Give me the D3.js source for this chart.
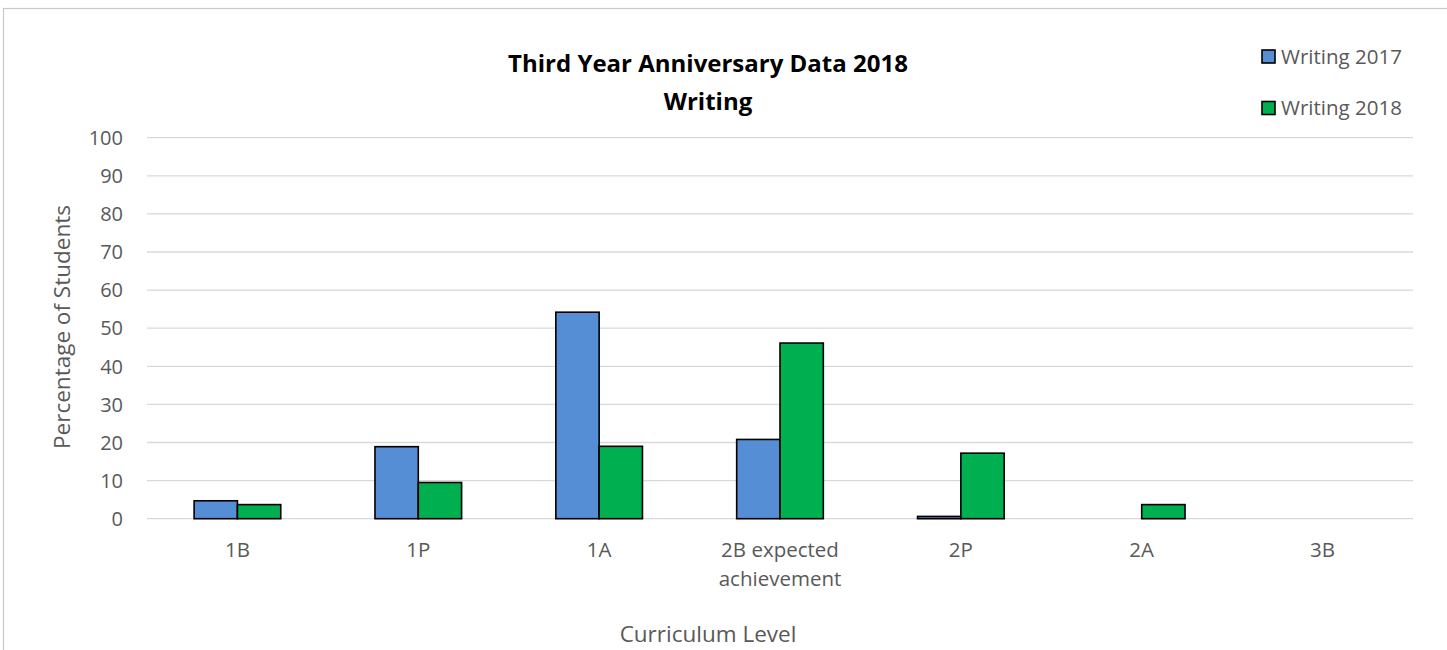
<!DOCTYPE html>
<html>
<head>
<meta charset="utf-8">
<script src="https://cdn.jsdelivr.net/npm/d3@7"></script>
<style>
  html, body { margin: 0; padding: 0; background: #fff; }
  svg { display: block; }
  text { font-family: "Open Sans", sans-serif; }
</style>
</head>
<body>
<svg id="chart" width="1447" height="650"></svg>
<script>
// Curriculum levels and the percentage of students at each level
const categories = ["1B", "1P", "1A", "2B expected achievement", "2P", "2A", "3B"];
const writing2017 = [4.7, 18.9, 54.2, 20.8, 0.6, 0, 0];
const writing2018 = [3.7, 9.5, 19.0, 46.1, 17.2, 3.7, 0];
const seriesNames = ["Writing 2017", "Writing 2018"];
const seriesColors = ["#558ED5", "#00B050"];
const yTicks = [0, 10, 20, 30, 40, 50, 60, 70, 80, 90, 100];

const svg = d3.select("#chart");
const W = 1447, H = 650;
const plot = { left: 147, right: 1413, top: 137.7, bottom: 518.7 };
const textGrey = "#595959";

// chart frame (runs off the right and bottom edges)
svg.append("rect")
  .attr("x", 3.5).attr("y", 8.5)
  .attr("width", W + 10).attr("height", H + 10)
  .attr("fill", "#fff").attr("stroke", "#c8c8c8").attr("stroke-width", 1.2);

const x = d3.scaleBand().domain(categories).range([plot.left, plot.right]).padding(0);
const y = d3.scaleLinear().domain([0, 100]).range([plot.bottom, plot.top]);
const groupFrac = 0.479;
const barW = x.bandwidth() * groupFrac / 2;

// gridlines
svg.append("g").selectAll("line").data(yTicks).join("line")
  .attr("x1", plot.left).attr("x2", plot.right)
  .attr("y1", d => y(d)).attr("y2", d => y(d))
  .attr("stroke", "#d9d9d9").attr("stroke-width", 1.3);

// y-axis tick labels
svg.append("g").selectAll("text").data(yTicks).join("text")
  .attr("x", 123).attr("y", d => y(d))
  .attr("dy", "0.36em")
  .attr("text-anchor", "end")
  .attr("font-size", 20).attr("fill", textGrey)
  .text(d => d);

// bars, one group per series
const series = [writing2017, writing2018];
series.forEach((vals, si) => {
  svg.append("g").selectAll("rect").data(categories).join("rect")
    .attr("x", (c) => x(c) + x.bandwidth() / 2 - barW + si * barW)
    .attr("y", (c, i) => y(vals[i]))
    .attr("width", barW)
    .attr("height", (c, i) => y(0) - y(vals[i]))
    .attr("fill", seriesColors[si])
    .attr("stroke", "#000")
    .attr("stroke-width", (c, i) => vals[i] > 0 ? 1.6 : 0);
});

// category labels (long label wraps onto two lines)
const catG = svg.append("g");
categories.forEach(c => {
  const lines = c === "2B expected achievement" ? ["2B expected", "achievement"] : [c];
  lines.forEach((ln, li) => {
    catG.append("text")
      .attr("x", x(c) + x.bandwidth() / 2)
      .attr("y", 557 + li * 29)
      .attr("text-anchor", "middle")
      .attr("font-size", 20.5).attr("fill", textGrey)
      .text(ln);
  });
});

// chart title
const titleX = 708;
svg.append("text").attr("x", titleX).attr("y", 72).attr("text-anchor", "middle")
  .attr("font-size", 24).attr("font-weight", "bold").attr("fill", "#000")
  .text("Third Year Anniversary Data 2018");
svg.append("text").attr("x", titleX).attr("y", 110).attr("text-anchor", "middle")
  .attr("font-size", 24).attr("font-weight", "bold").attr("fill", "#000")
  .text("Writing");

// axis titles
svg.append("text")
  .attr("transform", "translate(70,327) rotate(-90)")
  .attr("text-anchor", "middle")
  .attr("font-size", 22.5).attr("fill", textGrey)
  .text("Percentage of Students");
svg.append("text").attr("x", titleX).attr("y", 642).attr("text-anchor", "middle")
  .attr("font-size", 22.5).attr("fill", textGrey)
  .text("Curriculum Level");

// legend
const leg = svg.append("g");
seriesNames.forEach((name, i) => {
  const yy = 50 + i * 51.5;
  leg.append("rect").attr("x", 1262).attr("y", yy).attr("width", 13).attr("height", 13)
    .attr("fill", seriesColors[i]).attr("stroke", "#000").attr("stroke-width", 1.6);
  leg.append("text").attr("x", 1281).attr("y", yy + 13.5)
    .attr("font-size", 20.5).attr("fill", textGrey)
    .text(name);
});
</script>
</body>
</html>
